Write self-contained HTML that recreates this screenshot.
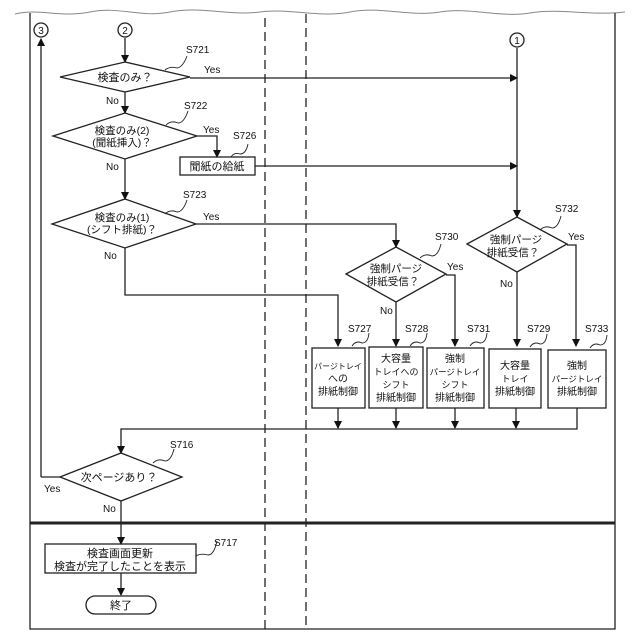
<!DOCTYPE html>
<html><head><meta charset="utf-8"><style>
html,body{margin:0;padding:0;background:#fff;width:640px;height:640px;overflow:hidden}
svg text{font-family:"Liberation Sans","Noto Sans CJK JP",sans-serif;fill:#111}
</style></head><body>
<svg width="640" height="640" viewBox="0 0 640 640" xmlns="http://www.w3.org/2000/svg">
<defs><marker id="a" markerWidth="8" markerHeight="8" refX="7" refY="4" orient="auto" markerUnits="userSpaceOnUse"><path d="M0,0 L8,4 L0,8 z" fill="#111"/></marker></defs>
<g stroke="#222" fill="none" stroke-width="1.3">
<path d="M15,14 C40,8 60,18 90,12 S140,18 170,12 S230,16 260,12 S320,18 350,12 S410,17 440,12 S500,18 530,13 S590,16 625,12" stroke="#888" stroke-width="1"/>
<path d="M30,13 V629 H615 V13"/>
<line x1="30" y1="523" x2="615" y2="523" stroke-width="3"/>
<line x1="265" y1="18" x2="265" y2="629" stroke-dasharray="9,5"/>
<line x1="306" y1="14" x2="306" y2="629" stroke-dasharray="9,5"/>
<circle cx="41" cy="30" r="7"/><circle cx="125" cy="30" r="7"/><circle cx="517" cy="40" r="7"/>
<line x1="41" y1="477" x2="41" y2="39" marker-end="url(#a)"/>
<line x1="60" y1="477" x2="41" y2="477"/>
<line x1="125" y1="38" x2="125" y2="62" marker-end="url(#a)"/>
<polygon points="60,77 125,62 190,77 125,92"/>
<line x1="190" y1="78" x2="517" y2="78" marker-end="url(#a)"/>
<line x1="125" y1="92" x2="125" y2="113" marker-end="url(#a)"/>
<polygon points="53,136 125,113 197,136 125,159"/>
<polyline points="197,136 217,136 217,157" marker-end="url(#a)"/>
<rect x="180" y="157" width="75" height="18"/>
<line x1="255" y1="166" x2="517" y2="166" marker-end="url(#a)"/>
<line x1="125" y1="159" x2="125" y2="199" marker-end="url(#a)"/>
<polygon points="52,224 125,199 196,224 125,248"/>
<polyline points="196,224 396,224 396,247" marker-end="url(#a)"/>
<polyline points="125,248 125,295 338,295 338,346" marker-end="url(#a)"/>
<polygon points="346,274 396,247 446,274 396,302"/>
<polyline points="446,275 455,275 455,346" marker-end="url(#a)"/>
<line x1="396" y1="302" x2="396" y2="346" marker-end="url(#a)"/>
<line x1="517" y1="48" x2="517" y2="217" marker-end="url(#a)"/>
<polygon points="467,244 517,217 567,244 517,272"/>
<polyline points="567,245 576,245 576,346" marker-end="url(#a)"/>
<line x1="517" y1="272" x2="517" y2="346" marker-end="url(#a)"/>
<rect x="312" y="348" width="53" height="60"/>
<rect x="369" y="347" width="54" height="61"/>
<rect x="427" y="348" width="57" height="60"/>
<rect x="489" y="349" width="52" height="59"/>
<rect x="548" y="350" width="58" height="58"/>
<line x1="338" y1="408" x2="338" y2="428" marker-end="url(#a)"/>
<line x1="396" y1="408" x2="396" y2="428" marker-end="url(#a)"/>
<line x1="455" y1="408" x2="455" y2="428" marker-end="url(#a)"/>
<line x1="516" y1="408" x2="516" y2="428" marker-end="url(#a)"/>
<polyline points="577,408 577,429 121,429 121,453" marker-end="url(#a)"/>
<polygon points="60,477 121,453 182,477 121,501"/>
<line x1="121" y1="501" x2="121" y2="544" marker-end="url(#a)"/>
<rect x="45" y="544" width="151" height="29"/>
<line x1="121" y1="573" x2="121" y2="595" marker-end="url(#a)"/>
<rect x="86" y="596" width="70" height="18" rx="9"/>
<g stroke-width="0.9">
<path d="M165,70 q5,-4 12,-2 q6,-1 10,-12"/>
<path d="M166,125 q5,-5 12,-2 q6,0 10,-12"/>
<path d="M231,157 q3,-5 9,-3 q6,0 8,-10"/>
<path d="M165,214 q5,-5 12,-2 q6,0 10,-12"/>
<path d="M420,258 q5,-5 12,-2 q6,0 9,-12"/>
<path d="M540,230 q5,-5 12,-2 q6,0 9,-12"/>
<path d="M352,346 q4,-6 10,-3 q6,0 7,-10"/>
<path d="M410,346 q4,-6 10,-3 q6,0 7,-10"/>
<path d="M470,346 q4,-6 10,-3 q6,0 7,-10"/>
<path d="M530,347 q4,-6 10,-3 q6,0 7,-10"/>
<path d="M590,348 q4,-6 10,-3 q6,0 7,-10"/>
<path d="M153,463 q5,-5 12,-2 q6,0 9,-12"/>
<path d="M196,556 q5,-3 12,-1 q6,0 9,-14"/>
</g>
</g>
<g font-size="11" text-anchor="middle">
<text x="41" y="34" font-size="10">3</text><text x="125" y="34" font-size="10">2</text><text x="517" y="44" font-size="10">1</text>
<text x="125" y="81">検査のみ？</text>
<text x="122" y="134" font-size="10.5">検査のみ(2)</text><text x="122" y="146" font-size="10.5">(聞紙挿入)？</text>
<text x="217" y="170">聞紙の給紙</text>
<text x="122" y="221" font-size="10.5">検査のみ(1)</text><text x="122" y="233" font-size="10.5">(シフト排紙)？</text>
<text x="396" y="272" font-size="10.5">強制パージ</text><text x="393" y="285" font-size="10.5">排紙受信？</text>
<text x="516" y="243" font-size="10.5">強制パージ</text><text x="513" y="256" font-size="10.5">排紙受信？</text>
<g font-size="10"><text x="338" y="369" font-size="8">パージトレイ</text><text x="338" y="382">への</text><text x="338" y="395">排紙制御</text>
<text x="396" y="362">大容量</text><text x="396" y="375" font-size="9">トレイへの</text><text x="396" y="388" font-size="9">シフト</text><text x="396" y="401">排紙制御</text>
<text x="455" y="362">強制</text><text x="455" y="375" font-size="8.5">パージトレイ</text><text x="455" y="388" font-size="9">シフト</text><text x="455" y="401">排紙制御</text>
<text x="515" y="369">大容量</text><text x="515" y="382" font-size="9">トレイ</text><text x="515" y="395">排紙制御</text>
<text x="577" y="369">強制</text><text x="577" y="382" font-size="8.5">パージトレイ</text><text x="577" y="395">排紙制御</text></g>
<text x="119" y="481">次ページあり？</text>
<text x="120" y="557">検査画面更新</text><text x="120" y="570">検査が完了したことを表示</text>
<text x="121" y="609">終了</text>
</g>
<g font-size="10" font-family="Liberation Sans">
<text x="186" y="53">S721</text><text x="184" y="109">S722</text><text x="233" y="139">S726</text><text x="183" y="198">S723</text>
<text x="435" y="240">S730</text><text x="555" y="212">S732</text>
<text x="348" y="332">S727</text><text x="405" y="332">S728</text><text x="467" y="332">S731</text><text x="527" y="332">S729</text><text x="585" y="332">S733</text>
<text x="170" y="448">S716</text><text x="214" y="546">S717</text>
<text x="204" y="73">Yes</text><text x="203" y="133">Yes</text><text x="203" y="220">Yes</text><text x="447" y="270">Yes</text><text x="568" y="240">Yes</text><text x="44" y="492">Yes</text>
<text x="106" y="104">No</text><text x="106" y="170">No</text><text x="104" y="259">No</text><text x="380" y="314">No</text><text x="500" y="287">No</text><text x="103" y="512">No</text>
</g>
</svg>
</body></html>
